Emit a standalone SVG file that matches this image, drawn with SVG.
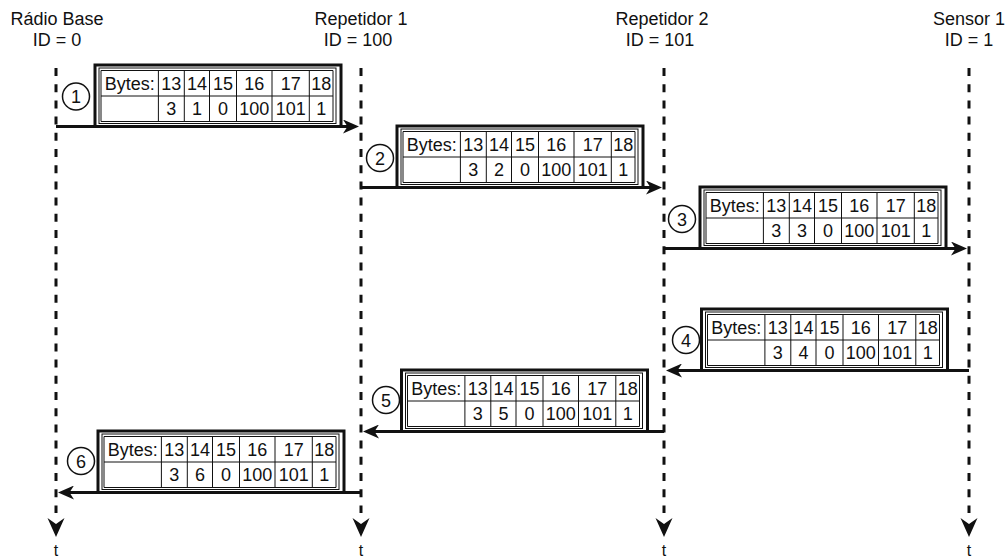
<svg xmlns="http://www.w3.org/2000/svg" width="1008" height="557" viewBox="0 0 1008 557">
<style>
text{font-family:"Liberation Sans",Arial,sans-serif;fill:#111;}
.hd{font-size:18px;text-anchor:middle;}
.t{font-size:16px;text-anchor:middle;}
.life{stroke:#111;stroke-width:3;stroke-dasharray:8 8.2;fill:none;}
.lhead{fill:#111;}
.outer{fill:#fff;stroke:#111;stroke-width:3;}
.thin{fill:none;stroke:#111;stroke-width:1;}
.grid{stroke:#111;stroke-width:1;fill:none;}
.c{font-size:18px;text-anchor:middle;}
.num{fill:#fff;stroke:#111;stroke-width:1.5;}
.msg{stroke:#111;stroke-width:3;fill:none;marker-end:url(#ah);}
</style>
<defs>
<marker id="ah" viewBox="0 0 16 14" refX="6" refY="7" markerWidth="16" markerHeight="14" orient="auto" markerUnits="userSpaceOnUse">
<path d="M0,0 L16,7 L0,14 L4.5,7 Z" fill="#111"/>
</marker>
</defs>
<rect width="1008" height="557" fill="#fff"/>

<g id="radio-base">
<text class="hd" x="57" y="25">Rádio Base</text>
<text class="hd" x="57" y="46">ID = 0</text>
<line class="life" x1="56" y1="68" x2="56" y2="513"/>
<path class="lhead" d="M56,537 L47.5,518 L56,524 L64.5,518 Z"/>
<text class="t" x="56" y="556">t</text>
</g>
<g id="repetidor-1">
<text class="hd" x="361" y="25">Repetidor 1</text>
<text class="hd" x="358" y="46">ID = 100</text>
<line class="life" x1="361" y1="68" x2="361" y2="513"/>
<path class="lhead" d="M361,537 L352.5,518 L361,524 L369.5,518 Z"/>
<text class="t" x="361" y="556">t</text>
</g>
<g id="repetidor-2">
<text class="hd" x="662" y="25">Repetidor 2</text>
<text class="hd" x="660" y="46">ID = 101</text>
<line class="life" x1="664" y1="68" x2="664" y2="513"/>
<path class="lhead" d="M664,537 L655.5,518 L664,524 L672.5,518 Z"/>
<text class="t" x="664" y="556">t</text>
</g>
<g id="sensor-1">
<text class="hd" x="969" y="25">Sensor 1</text>
<text class="hd" x="969" y="46">ID = 1</text>
<line class="life" x1="969" y1="68" x2="969" y2="513"/>
<path class="lhead" d="M969,537 L960.5,518 L969,524 L977.5,518 Z"/>
<text class="t" x="969" y="556">t</text>
</g>

<g id="connectors">
<path class="msg" d="M56,126.5 H349"/>
<path class="msg" d="M361,187.5 H652"/>
<path class="msg" d="M664,248.5 H957"/>
<path class="msg" d="M969,370.5 H676"/>
<path class="msg" d="M664,431.5 H373"/>
<path class="msg" d="M361,492.5 H68"/>
</g>

<g id="msg-1">
<circle class="num" cx="76" cy="96.5" r="13.5"/>
<text class="c" x="76" y="103">1</text>
<g transform="translate(95,65)">
<rect class="outer" x="0" y="0" width="246" height="61.5"/>
<rect class="thin" x="4" y="3" width="237" height="55.5"/>
<path class="grid" d="M6,5.5 H238 V56.5 H6 Z M6,31 H238 M63.4,5.5 V56.5 M89.3,5.5 V56.5 M114.5,5.5 V56.5 M141.5,5.5 V56.5 M177,5.5 V56.5 M214.3,5.5 V56.5"/>
<text class="c" x="34.7" y="25">Bytes:</text><text class="c" x="76.35" y="25">13</text><text class="c" x="101.9" y="25">14</text><text class="c" x="128" y="25">15</text><text class="c" x="159.25" y="25">16</text><text class="c" x="195.65" y="25">17</text><text class="c" x="226.15" y="25">18</text>
<text class="c" x="76.35" y="50">3</text><text class="c" x="101.9" y="50">1</text><text class="c" x="128" y="50">0</text><text class="c" x="159.25" y="50">100</text><text class="c" x="195.65" y="50">101</text><text class="c" x="226.15" y="50">1</text>
</g>
</g>

<g id="msg-2">
<circle class="num" cx="380" cy="158" r="13.5"/>
<text class="c" x="380" y="164.5">2</text>
<g transform="translate(397,126)">
<rect class="outer" x="0" y="0" width="246" height="61.5"/>
<rect class="thin" x="4" y="3" width="237" height="55.5"/>
<path class="grid" d="M6,5.5 H238 V56.5 H6 Z M6,31 H238 M63.4,5.5 V56.5 M89.3,5.5 V56.5 M114.5,5.5 V56.5 M141.5,5.5 V56.5 M177,5.5 V56.5 M214.3,5.5 V56.5"/>
<text class="c" x="34.7" y="25">Bytes:</text><text class="c" x="76.35" y="25">13</text><text class="c" x="101.9" y="25">14</text><text class="c" x="128" y="25">15</text><text class="c" x="159.25" y="25">16</text><text class="c" x="195.65" y="25">17</text><text class="c" x="226.15" y="25">18</text>
<text class="c" x="76.35" y="50">3</text><text class="c" x="101.9" y="50">2</text><text class="c" x="128" y="50">0</text><text class="c" x="159.25" y="50">100</text><text class="c" x="195.65" y="50">101</text><text class="c" x="226.15" y="50">1</text>
</g>
</g>

<g id="msg-3">
<circle class="num" cx="682" cy="219" r="13.5"/>
<text class="c" x="682" y="225.5">3</text>
<g transform="translate(700,187)">
<rect class="outer" x="0" y="0" width="246" height="61.5"/>
<rect class="thin" x="4" y="3" width="237" height="55.5"/>
<path class="grid" d="M6,5.5 H238 V56.5 H6 Z M6,31 H238 M63.4,5.5 V56.5 M89.3,5.5 V56.5 M114.5,5.5 V56.5 M141.5,5.5 V56.5 M177,5.5 V56.5 M214.3,5.5 V56.5"/>
<text class="c" x="34.7" y="25">Bytes:</text><text class="c" x="76.35" y="25">13</text><text class="c" x="101.9" y="25">14</text><text class="c" x="128" y="25">15</text><text class="c" x="159.25" y="25">16</text><text class="c" x="195.65" y="25">17</text><text class="c" x="226.15" y="25">18</text>
<text class="c" x="76.35" y="50">3</text><text class="c" x="101.9" y="50">3</text><text class="c" x="128" y="50">0</text><text class="c" x="159.25" y="50">100</text><text class="c" x="195.65" y="50">101</text><text class="c" x="226.15" y="50">1</text>
</g>
</g>

<g id="msg-4">
<circle class="num" cx="686" cy="340" r="13.5"/>
<text class="c" x="686" y="346.5">4</text>
<g transform="translate(701.5,309)">
<rect class="outer" x="0" y="0" width="246" height="61.5"/>
<rect class="thin" x="4" y="3" width="237" height="55.5"/>
<path class="grid" d="M6,5.5 H238 V56.5 H6 Z M6,31 H238 M63.4,5.5 V56.5 M89.3,5.5 V56.5 M114.5,5.5 V56.5 M141.5,5.5 V56.5 M177,5.5 V56.5 M214.3,5.5 V56.5"/>
<text class="c" x="34.7" y="25">Bytes:</text><text class="c" x="76.35" y="25">13</text><text class="c" x="101.9" y="25">14</text><text class="c" x="128" y="25">15</text><text class="c" x="159.25" y="25">16</text><text class="c" x="195.65" y="25">17</text><text class="c" x="226.15" y="25">18</text>
<text class="c" x="76.35" y="50">3</text><text class="c" x="101.9" y="50">4</text><text class="c" x="128" y="50">0</text><text class="c" x="159.25" y="50">100</text><text class="c" x="195.65" y="50">101</text><text class="c" x="226.15" y="50">1</text>
</g>
</g>

<g id="msg-5">
<circle class="num" cx="386" cy="400" r="13.5"/>
<text class="c" x="386" y="406.5">5</text>
<g transform="translate(401.5,370)">
<rect class="outer" x="0" y="0" width="246" height="61.5"/>
<rect class="thin" x="4" y="3" width="237" height="55.5"/>
<path class="grid" d="M6,5.5 H238 V56.5 H6 Z M6,31 H238 M63.4,5.5 V56.5 M89.3,5.5 V56.5 M114.5,5.5 V56.5 M141.5,5.5 V56.5 M177,5.5 V56.5 M214.3,5.5 V56.5"/>
<text class="c" x="34.7" y="25">Bytes:</text><text class="c" x="76.35" y="25">13</text><text class="c" x="101.9" y="25">14</text><text class="c" x="128" y="25">15</text><text class="c" x="159.25" y="25">16</text><text class="c" x="195.65" y="25">17</text><text class="c" x="226.15" y="25">18</text>
<text class="c" x="76.35" y="50">3</text><text class="c" x="101.9" y="50">5</text><text class="c" x="128" y="50">0</text><text class="c" x="159.25" y="50">100</text><text class="c" x="195.65" y="50">101</text><text class="c" x="226.15" y="50">1</text>
</g>
</g>

<g id="msg-6">
<circle class="num" cx="81" cy="461" r="13.5"/>
<text class="c" x="81" y="467.5">6</text>
<g transform="translate(98,431)">
<rect class="outer" x="0" y="0" width="246" height="61.5"/>
<rect class="thin" x="4" y="3" width="237" height="55.5"/>
<path class="grid" d="M6,5.5 H238 V56.5 H6 Z M6,31 H238 M63.4,5.5 V56.5 M89.3,5.5 V56.5 M114.5,5.5 V56.5 M141.5,5.5 V56.5 M177,5.5 V56.5 M214.3,5.5 V56.5"/>
<text class="c" x="34.7" y="25">Bytes:</text><text class="c" x="76.35" y="25">13</text><text class="c" x="101.9" y="25">14</text><text class="c" x="128" y="25">15</text><text class="c" x="159.25" y="25">16</text><text class="c" x="195.65" y="25">17</text><text class="c" x="226.15" y="25">18</text>
<text class="c" x="76.35" y="50">3</text><text class="c" x="101.9" y="50">6</text><text class="c" x="128" y="50">0</text><text class="c" x="159.25" y="50">100</text><text class="c" x="195.65" y="50">101</text><text class="c" x="226.15" y="50">1</text>
</g>
</g>
</svg>
